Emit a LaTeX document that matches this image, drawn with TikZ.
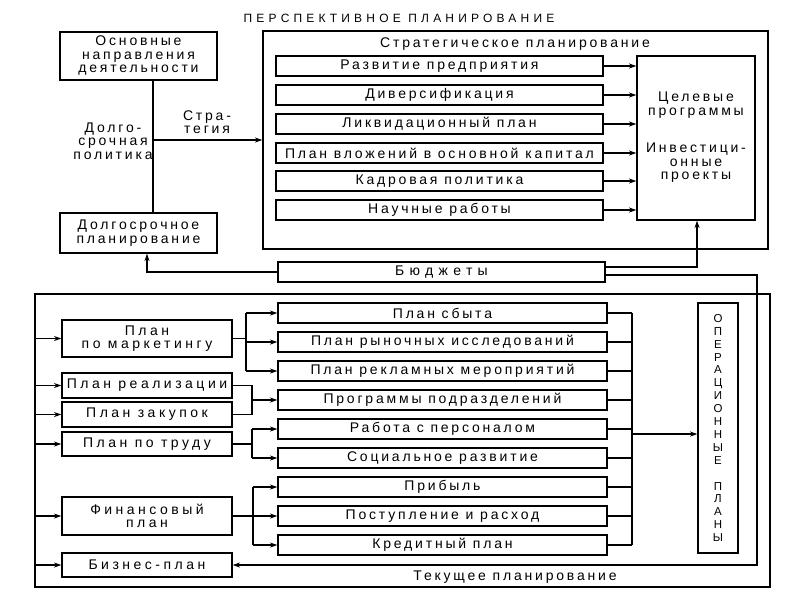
\documentclass[tikz,border=0pt]{standalone}
\usepackage{fontspec}
\setmainfont{Liberation Sans}[LetterSpace=20]
\newfontfamily\leftfont{Liberation Sans}[LetterSpace=25]
\newfontfamily\titlefont{Liberation Sans}[LetterSpace=35]
\newfontfamily\budfont{Liberation Sans}[LetterSpace=38]
\usetikzlibrary{arrows.meta,calc}
\begin{document}
\begin{tikzpicture}[x=1pt,y=-1pt,
  ln/.style={line width=1.1pt},
  arr/.style={line width=1.1pt,-{Stealth[length=7.5pt,width=5pt]}},
  box/.style={draw,line width=1.1pt,inner sep=0pt,align=center,font=\fontsize{14}{13.5}\selectfont},
  frm/.style={draw,line width=1.1pt,inner sep=0pt},
  txt/.style={inner sep=0pt,align=center,font=\fontsize{14}{13.5}\selectfont},
  sbox/.style={box,minimum width=327pt,minimum height=20pt},
  lbox/.style={box,minimum width=170pt,font=\leftfont\fontsize{14}{13.5}\selectfont},
  rbox/.style={box,minimum width=329pt,minimum height=20pt}]
\useasboundingbox (0,0) rectangle (800,600);
\fill[white] (0,0) rectangle (800,600);

% ---------- perspective planning ----------
\node[txt,font=\titlefont\fontsize{12}{13}\selectfont] (title) at (399,18) {ПЕРСПЕКТИВНОЕ ПЛАНИРОВАНИЕ};
\node[box,minimum width=157pt,minimum height=48pt] (osn) at (138.5,56) {Основные\\направления\\деятельности};
\node[box,minimum width=157pt,minimum height=40pt] (dolg) at (138.5,233) {Долгосрочное\\планирование};
\coordinate (vx) at (153,140);
\draw[ln] (vx |- osn.south) -- (vx |- dolg.north);
\node[txt] (pol) at (113,141) {Долго-\\срочная\\политика};
\node[txt] (strl) at (207,122) {Стра-\\тегия};

\node[frm,minimum width=505pt,minimum height=218pt] (strat) at (515.5,140) {};
\node[txt] (stratt) at (515,44) {Стратегическое планирование};
\draw[arr] (vx) -- (vx -| strat.west);

\node[box,minimum width=118pt,minimum height=164pt] (big) at (696,138) {};
\node[txt] (cel) at (696,105) {Целевые\\программы};
\node[txt] (inv) at (696,163) {Инвестици-\\онные\\проекты};

\foreach \yy/\tt/\nn in {66/Развитие предприятия/s1, 95/Диверсификация/s2, 124/Ликвидационный план/s3,
  153/План вложений в основной капитал/s4, 181/Кадровая политика/s5, 210/Научные работы/s6}{
  \node[sbox] (\nn) at (439.5,\yy) {\tt};
  \draw[arr] (\nn.east) -- (\nn.east -| big.west);
}

\node[box,minimum width=327pt,minimum height=20pt,font=\budfont\fontsize{14}{13.5}\selectfont] (bud) at (441.5,272) {Бюджеты};
\draw[arr] (bud.west) -| ($(dolg.south)+(8.5,0)$);
\draw[arr] ([yshift=5pt]bud.east) -| ($(big.south)+(1,0)$);

% ---------- current planning ----------
\node[frm,minimum width=735pt,minimum height=293pt] (cur) at (402.5,440.5) {};
\node[txt] (curt) at (515,577) {Текущее планирование};

\node[lbox,minimum height=37pt] (mark) at (147,338.5) {План\\по маркетингу};
\node[lbox,minimum height=25pt] (real) at (147,385.5) {План реализации};
\node[lbox,minimum height=25pt] (zak) at (147,414.5) {План закупок};
\node[lbox,minimum height=24pt] (trud) at (147,444) {План по труду};
\node[lbox,minimum height=38pt] (fin) at (147,516) {Финансовый\\план};
\node[lbox,minimum height=24pt] (biz) at (147,565) {Бизнес-план};

\foreach \nn in {mark,real,zak,trud,fin,biz}{
  \draw[arr] (cur.west |- \nn.west) -- (\nn.west);
}

\node[rbox] (r1) at (442.5,313) {План сбыта};
\node[rbox] (r2) at (442.5,342) {План рыночных исследований};
\node[rbox] (r3) at (442.5,371) {План рекламных мероприятий};
\node[rbox] (r4) at (442.5,400) {Программы подразделений};
\node[rbox] (r5) at (442.5,429) {Работа с персоналом};
\node[rbox] (r6) at (442.5,458) {Социальное развитие};
\node[rbox] (r7) at (442.5,487) {Прибыль};
\node[rbox] (r8) at (442.5,516) {Поступление и расход};
\node[rbox] (r9) at (442.5,545) {Кредитный план};

\node[box,minimum width=40pt,minimum height=250pt,font=\fontsize{11.5}{12.9}\selectfont] (op) at (718,428)
  {О\\П\\Е\\Р\\А\\Ц\\И\\О\\Н\\Н\\Ы\\Е\\[12.9pt]П\\Л\\А\\Н\\Ы};

% budgets to business plan
\coordinate (bx) at (757,0);
\draw[arr] ([yshift=-3pt]bud.east) -| (bx |- biz.east) -- (biz.east);

% marketing
\coordinate (j1) at (246,0);
\draw[ln] (mark.east) -- (j1 |- mark.east);
\draw[ln] (j1 |- r1.west) -- (j1 |- r3.west);
\foreach \nn in {r1,r2,r3}{\draw[arr] (j1 |- \nn.west) -- (\nn.west);}
% sales + purchases
\coordinate (j2) at (252,0);
\draw[ln] (real.east) -- (j2 |- real.east) -- (j2 |- zak.east) -- (zak.east);
\draw[arr] (j2 |- r4.west) -- (r4.west);
% labour
\coordinate (j3) at (252,0);
\draw[ln] (trud.east) -- (j3 |- trud.east);
\draw[ln] (j3 |- r5.west) -- (j3 |- r6.west);
\foreach \nn in {r5,r6}{\draw[arr] (j3 |- \nn.west) -- (\nn.west);}
% finance
\coordinate (j4) at (253,0);
\draw[ln] (fin.east) -- (j4 |- fin.east);
\draw[ln] (j4 |- r7.west) -- (j4 |- r9.west);
\foreach \nn in {r7,r8,r9}{\draw[arr] (j4 |- \nn.west) -- (\nn.west);}

% collect to operational plans
\coordinate (c) at (632,0);
\foreach \nn in {r1,r2,r3,r4,r5,r6,r7,r8,r9}{\draw[ln] (\nn.east) -- (c |- \nn.east);}
\draw[ln] (c |- r1.east) -- (c |- r9.east);
\coordinate (opin) at (632,434);
\draw[arr] (opin) -- (opin -| op.west);
\end{tikzpicture}
\end{document}
